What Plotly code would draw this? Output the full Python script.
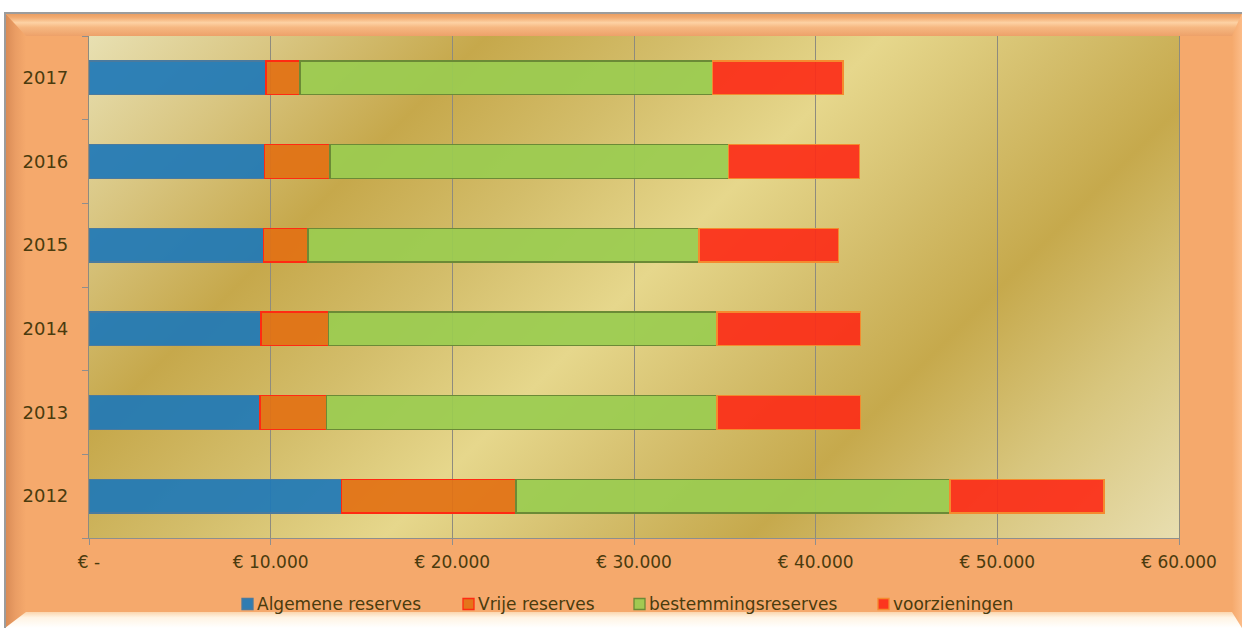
import base64
import plotly.graph_objects as go

# ---- data -------------------------------------------------------------
years = ["2012", "2013", "2014", "2015", "2016", "2017"]
algemene_reserves = [13880, 9410, 9470, 9590, 9650, 9750]
vrije_reserves = [9630, 3670, 3720, 2460, 3610, 1870]
bestemmingsreserves = [23890, 21490, 21380, 21520, 21950, 22720]
voorzieningen = [8470, 7880, 7880, 7690, 7190, 7170]

series_names = ["Algemene reserves", "Vrije reserves",
                "bestemmingsreserves", "voorzieningen"]
series_values = [algemene_reserves, vrije_reserves,
                 bestemmingsreserves, voorzieningen]

x_tick_values = [0, 10000, 20000, 30000, 40000, 50000, 60000]
x_tick_labels = ["€ -", "€ 10.000", "€ 20.000", "€ 30.000",
                 "€ 40.000", "€ 50.000", "€ 60.000"]

# ---- styling ------------------------------------------------------------
fill_colors = ["rgba(30,120,183,0.92)", "rgba(226,113,20,0.92)",
               "rgba(154,204,80,0.92)", "rgba(252,44,24,0.92)"]
edge_colors = ["#4A7A9E", "#FF2A12", "#6B8A36", "#F58A2E"]
text_color = "#4A3B0E"
grid_color = "#8E8B7E"
font_family = "DejaVu Sans"

W, H = 1242, 628
M_L, M_R, M_T, M_B = 89, 63, 36, 90
PW, PH = W - M_L - M_R, H - M_T - M_B


def svg_uri(svg):
    return "data:image/svg+xml;base64," + base64.b64encode(svg.encode("utf-8")).decode("ascii")


# bevelled orange frame around the whole chart
frame_svg = f"""<svg xmlns="http://www.w3.org/2000/svg" width="{W}" height="{H}" viewBox="0 0 {W} {H}" preserveAspectRatio="none">
<defs>
 <linearGradient id="tp" x1="0" y1="0" x2="0" y2="1">
  <stop offset="0" stop-color="#E89A5E"/><stop offset="0.2" stop-color="#F2AC72"/>
  <stop offset="0.42" stop-color="#FDD2A4"/><stop offset="0.62" stop-color="#F6B882"/>
  <stop offset="1" stop-color="#EDA169"/>
 </linearGradient>
 <linearGradient id="lf" x1="0" y1="0" x2="1" y2="0">
  <stop offset="0" stop-color="#D88A55"/><stop offset="0.5" stop-color="#EA9D64"/>
  <stop offset="1" stop-color="#F5A96C"/>
 </linearGradient>
 <linearGradient id="rt" x1="0" y1="0" x2="1" y2="0">
  <stop offset="0" stop-color="#F5A96C"/><stop offset="1" stop-color="#FCBC88"/>
 </linearGradient>
 <linearGradient id="bt" x1="0" y1="0" x2="0" y2="1">
  <stop offset="0" stop-color="#FBD6AE"/><stop offset="0.35" stop-color="#FFF4E4"/>
  <stop offset="1" stop-color="#FFFFFF"/>
 </linearGradient>
</defs>
<rect x="0" y="0" width="{W}" height="{H}" fill="#FFFFFF"/>
<rect x="5" y="13" width="{W-5}" height="{H-13}" fill="#F5A96C"/>
<polygon points="5,13 26,36 26,612 5,628" fill="url(#lf)"/>
<polygon points="{W},13 1232,34 1232,612 {W},628" fill="url(#rt)"/>
<polygon points="5,13 {W},13 1232,36 26,36" fill="url(#tp)"/>
<polygon points="5,628 26,612 1232,612 {W},628" fill="url(#bt)"/>
<polyline points="5,{H} 5,13 {W},13" fill="none" stroke="#9C9C9C" stroke-width="2"/>
</svg>"""

# golden diagonal sheen for the plotting area
gold_stops = [(0.00, "#E8E0B2"), (0.12, "#D9C682"), (0.25, "#C6A84B"),
              (0.37, "#D3BD6A"), (0.50, "#E6D78C"), (0.62, "#D4BE6C"),
              (0.73, "#C6A94C"), (0.86, "#D8C67E"), (1.00, "#E8DEB0")]
half = (PW + PH) / 2
gold_svg = (f'<svg xmlns="http://www.w3.org/2000/svg" width="{PW}" height="{PH}" '
            f'viewBox="0 0 {PW} {PH}" preserveAspectRatio="none"><defs>'
            f'<linearGradient id="g" gradientUnits="userSpaceOnUse" x1="0" y1="0" x2="{half}" y2="{half}">'
            + "".join(f'<stop offset="{o}" stop-color="{c}"/>' for o, c in gold_stops)
            + f'</linearGradient></defs><rect x="0" y="0" width="{PW}" height="{PH}" fill="url(#g)"/></svg>')

fig = go.Figure()
for name, vals, fc, ec in zip(series_names, series_values, fill_colors, edge_colors):
    fig.add_trace(go.Bar(
        y=years, x=vals, name=name, orientation="h",
        marker=dict(color=fc, line=dict(color=ec, width=1.3)),
        showlegend=False, hoverinfo="x+name",
    ))

# legend drawn as small squares with labels below the axis
legend_left_px = [242, 463, 634, 878]
legend_y = -66 / PH
sq = 11
shapes = []
annotations = []
for name, fc, ec, lx in zip(series_names, fill_colors, edge_colors, legend_left_px):
    x0 = (lx - M_L) / PW
    x1 = (lx + sq - M_L) / PW
    shapes.append(dict(type="rect", xref="paper", yref="paper",
                       x0=x0, x1=x1, y0=legend_y - sq / 2 / PH, y1=legend_y + sq / 2 / PH,
                       fillcolor=fc, line=dict(color=ec, width=1.3)))
    annotations.append(dict(xref="paper", yref="paper", x=x1 + 2 / PW, y=legend_y,
                            xanchor="left", yanchor="middle", showarrow=False,
                            text=name, font=dict(family=font_family, size=17, color=text_color)))

images = [
    dict(source=svg_uri(frame_svg), xref="paper", yref="paper",
         x=-M_L / PW, y=1 + M_T / PH, sizex=W / PW, sizey=H / PH,
         xanchor="left", yanchor="top", sizing="stretch", layer="below"),
    dict(source=svg_uri(gold_svg), xref="paper", yref="paper",
         x=0, y=1, sizex=1, sizey=1, xanchor="left", yanchor="top",
         sizing="stretch", layer="below"),
]

fig.update_layout(
    width=W, height=H,
    margin=dict(l=M_L, r=M_R, t=M_T, b=M_B, pad=0),
    barmode="stack", bargap=0.6,
    paper_bgcolor="#FFFFFF", plot_bgcolor="rgba(0,0,0,0)",
    font=dict(family=font_family, color=text_color),
    images=images, shapes=shapes, annotations=annotations,
    xaxis=dict(range=[0, 60000], tickvals=x_tick_values, ticktext=x_tick_labels,
               showgrid=True, gridcolor=grid_color, gridwidth=1, zeroline=False,
               showline=True, linecolor="#8E8E8E", linewidth=1.2,
               ticks="outside", ticklen=6, tickcolor="#8E8E8E", ticklabelstandoff=2,
               tickfont=dict(family=font_family, size=17, color=text_color)),
    yaxis=dict(type="category", categoryorder="array", categoryarray=years,
               showgrid=False, zeroline=False,
               showline=True, mirror=True, linecolor=grid_color, linewidth=1.2,
               ticks="outside", ticklen=6, tickcolor="#8E8E8E", tickson="boundaries",
               ticklabelstandoff=16,
               tickfont=dict(family=font_family, size=18, color=text_color)),
)

fig.write_html("out.html")
